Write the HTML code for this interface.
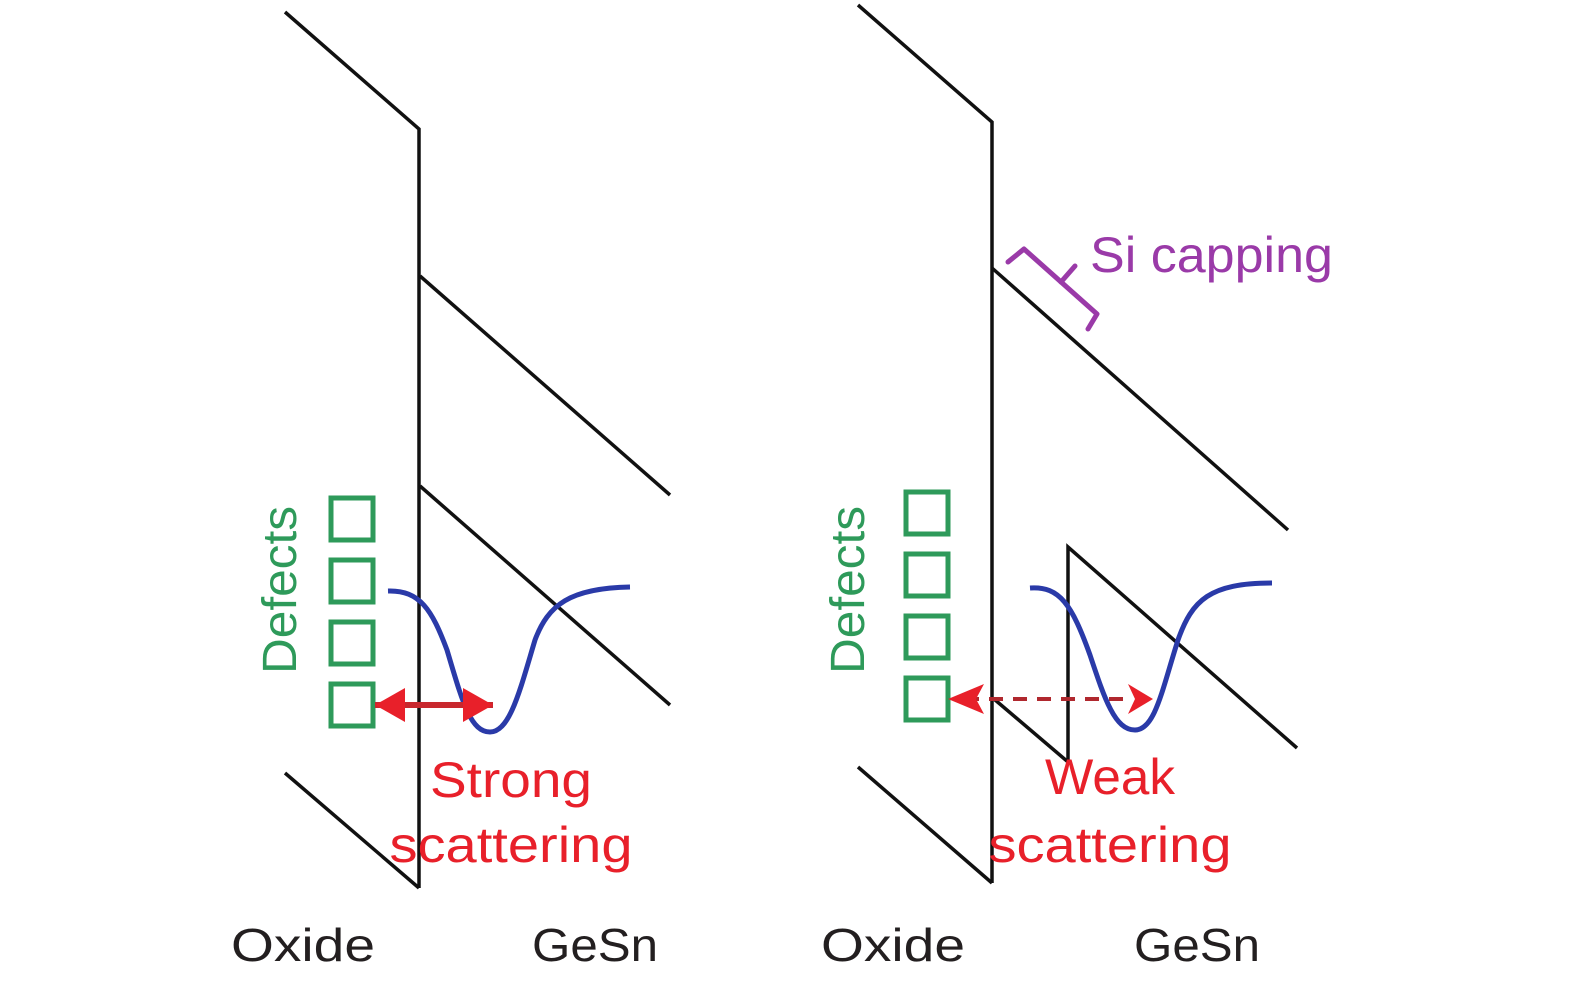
<!DOCTYPE html>
<html><head><meta charset="utf-8"><style>
html,body{margin:0;padding:0;background:#fff;}
svg{display:block;}
text{font-family:"Liberation Sans",sans-serif;}
</style></head><body>
<svg width="1575" height="984" viewBox="0 0 1575 984" xmlns="http://www.w3.org/2000/svg">
<defs>
<marker id="ah" viewBox="0 0 10 10" refX="9" refY="5" markerWidth="5" markerHeight="5" orient="auto-start-reverse" markerUnits="userSpaceOnUse" >
<path d="M0,0 L10,5 L0,10 z" fill="#e8202a"/>
</marker>
</defs>
<g fill="none" stroke="#111" stroke-width="3.5">
<!-- left panel -->
<polyline points="285,12 419,129 419,888"/>
<line x1="285" y1="773" x2="419" y2="888"/>
<line x1="420" y1="276" x2="670" y2="495"/>
<line x1="420" y1="486" x2="670" y2="705"/>
<!-- right panel -->
<polyline points="858,5 992,122 992,883"/>
<line x1="858" y1="767" x2="992" y2="883"/>
<line x1="992" y1="268" x2="1288" y2="530"/>
<line x1="994" y1="699" x2="1068" y2="762"/>
<polyline points="1068,762 1068,547 1297,748"/>
</g>
<!-- defects squares -->
<g fill="none" stroke="#2e9a5a" stroke-width="5">
<rect x="331" y="498" width="42" height="42"/>
<rect x="331" y="560" width="42" height="42"/>
<rect x="331" y="622" width="42" height="42"/>
<rect x="331" y="684" width="42" height="42"/>
<rect x="906" y="492" width="42" height="42"/>
<rect x="906" y="554" width="42" height="42"/>
<rect x="906" y="616" width="42" height="42"/>
<rect x="906" y="678" width="42" height="42"/>
</g>
<text transform="translate(296,590) rotate(-90)" text-anchor="middle" font-size="48" fill="#2e9a5a" textLength="168" lengthAdjust="spacingAndGlyphs">Defects</text>
<text transform="translate(864,590) rotate(-90)" text-anchor="middle" font-size="48" fill="#2e9a5a" textLength="168" lengthAdjust="spacingAndGlyphs">Defects</text>
<!-- wave curves -->
<g fill="none" stroke="#2a3aa8" stroke-width="5">
<path d="M388,591 C420,590 432,610 447,650 C462,700 470,732 490,732 C510,732 520,690 535,640 C548,605 570,588 630,587"/>
<path d="M1030,588 C1060,586 1072,605 1090,655 C1105,700 1115,730 1135,730 C1155,730 1162,690 1178,640 C1192,600 1210,583 1272,583"/>
</g>
<!-- arrows -->
<line x1="375" y1="705" x2="493" y2="705" stroke="#c8282e" stroke-width="6"/>
<path d="M375,705 L405,688 L405,722 z" fill="#e8202a"/>
<path d="M493,705 L463,688 L463,722 z" fill="#e8202a"/>
<line x1="965" y1="699" x2="1132" y2="699" stroke="#b0282e" stroke-width="4" stroke-dasharray="14,10"/>
<path d="M948,699 L984,684 L976,699 L984,714 z" fill="#e8202a"/>
<path d="M1153,699 L1128,684 L1135,699 L1128,714 z" fill="#e8202a"/>
<!-- Si capping -->
<g fill="none" stroke="#9a3aa8" stroke-width="5" stroke-linejoin="round" stroke-linecap="round">
<polyline points="1008,262 1024,249 1097,314 1088,329"/>
<line x1="1061" y1="282" x2="1075" y2="266"/>
</g>
<text x="1090" y="272" font-size="50" fill="#9a3aa8" textLength="243" lengthAdjust="spacingAndGlyphs">Si capping</text>
<!-- labels -->
<g fill="#e8202a" font-size="50" text-anchor="middle">
<text x="511" y="797" textLength="162" lengthAdjust="spacingAndGlyphs">Strong</text>
<text x="511" y="862" textLength="243" lengthAdjust="spacingAndGlyphs">scattering</text>
<text x="1110" y="794" textLength="130" lengthAdjust="spacingAndGlyphs">Weak</text>
<text x="1110" y="862" textLength="243" lengthAdjust="spacingAndGlyphs">scattering</text>
</g>
<g fill="#231f20" font-size="46">
<text x="231" y="961" textLength="144" lengthAdjust="spacingAndGlyphs">Oxide</text>
<text x="532" y="961" textLength="126" lengthAdjust="spacingAndGlyphs">GeSn</text>
<text x="821" y="961" textLength="144" lengthAdjust="spacingAndGlyphs">Oxide</text>
<text x="1134" y="961" textLength="126" lengthAdjust="spacingAndGlyphs">GeSn</text>
</g>
</svg>
</body></html>
